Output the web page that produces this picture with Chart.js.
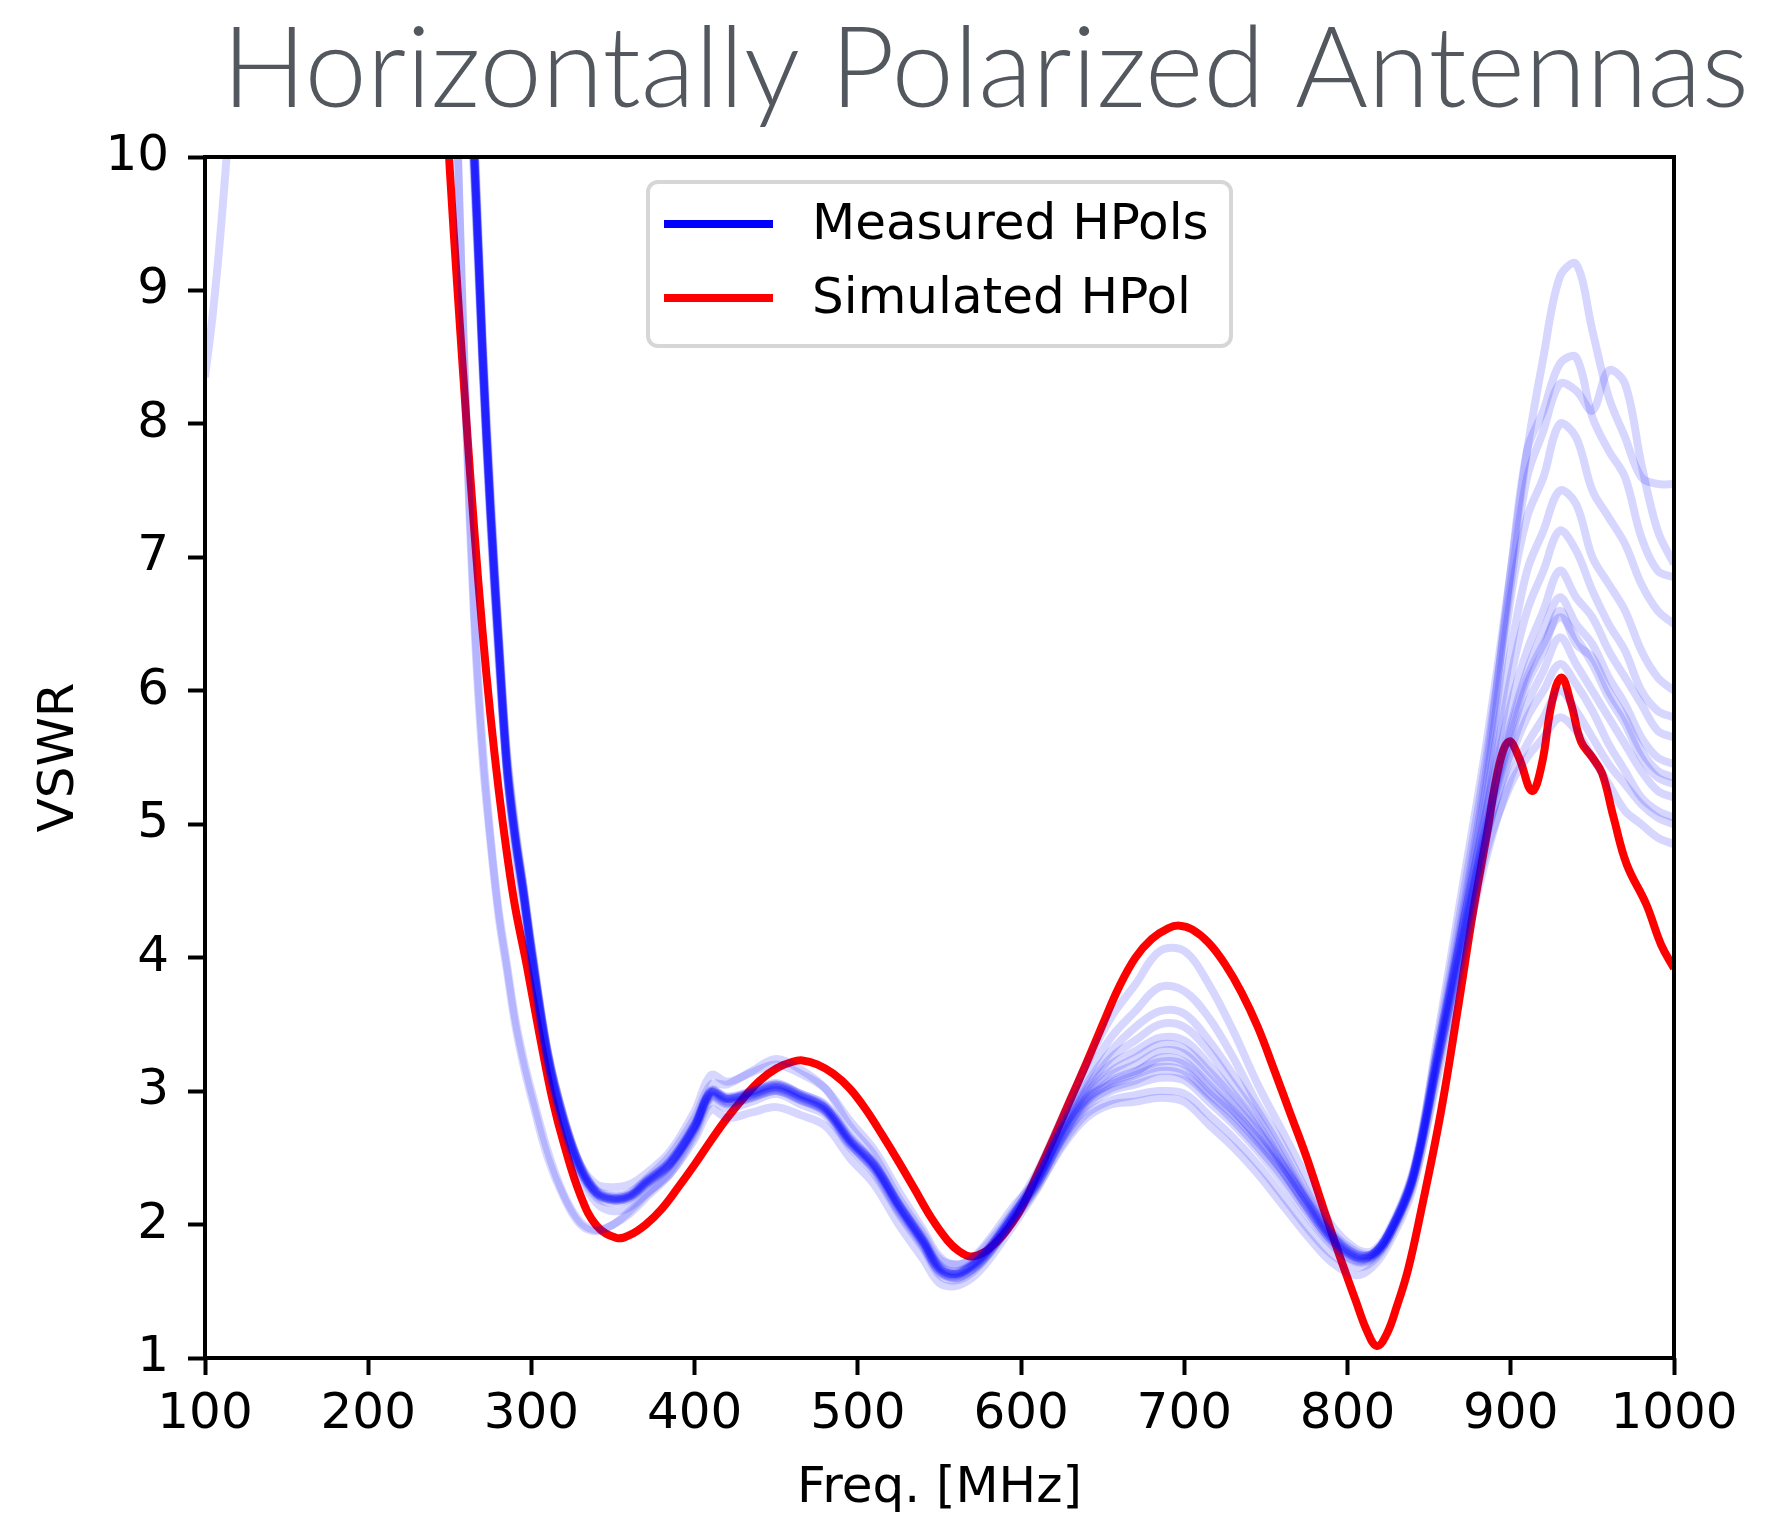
<!DOCTYPE html>
<html>
<head>
<meta charset="utf-8">
<title>Horizontally Polarized Antennas</title>
<script src="https://cdn.jsdelivr.net/npm/chart.js@4.4.1/dist/chart.umd.min.js"></script>
<style>
  html, body { margin: 0; padding: 0; background: #fff; }
  canvas { display: block; }
</style>
</head>
<body>
<canvas id="vswrChart" width="1766" height="1514"></canvas>
<script>
// ===== DATA =====
const titleText = 'Horizontally Polarized Antennas';
const xTitle = 'Freq. [MHz]';
const yTitle = 'VSWR';
const legendLabels = ['Measured HPols', 'Simulated HPol'];
const legendColors = ['rgb(0,0,255)', 'rgb(255,0,0)'];

// frequency grid shared by the measured runs (MHz)
const measFreq = [100, 105, 110, 115, 120, 240, 250, 255, 260, 265,
  270, 275, 280, 285, 290, 295, 300,
  310, 320, 330, 340, 350, 360, 370, 385, 400, 410, 420, 435, 450, 465, 480, 495, 510, 525, 540, 550, 560, 570, 580, 595,
  610, 625, 640, 655, 670, 685, 700, 715, 730, 745, 760, 775, 790, 805, 815, 825, 840,
  855, 870, 885,
  900, 910, 920, 930, 940, 950, 960, 970, 980, 990, 1000];

// measured VSWR runs (values above 10 are off the plot)
const hpol01 = [20,20,20,20,20, 16,13.5,12.3,11.1,10.0, 8.5,7.3,6.3,5.4,4.9,4.5,4.05,
  3.25,2.75,2.4,2.22,2.18,2.2,2.3,2.45,2.73,2.98,2.93,2.97,3.02,2.95,2.86,2.62,2.43,2.13,1.86,1.66,1.62,1.68,1.8,2.05,
  2.33,2.68,2.93,3.08,3.15,3.22,3.2,3.02,2.85,2.65,2.42,2.15,1.9,1.76,1.77,1.92,2.35,
  3.3,4.3,5.4, 6.9,7.8,8.1,8.45,8.5,8.05,7.8,7.6,7.15,6.9,6.85];
const hpol02 = [20,20,20,20,20, 16,13.6,12.4,11.2,10.1, 8.6,7.4,6.4,5.5,4.95,4.55,4.1,
  3.3,2.8,2.45,2.25,2.2,2.22,2.32,2.48,2.75,3.0,2.95,3.0,3.06,2.98,2.9,2.66,2.46,2.16,1.9,1.7,1.64,1.7,1.82,2.08,
  2.35,2.7,2.95,3.05,3.12,3.18,3.15,2.98,2.82,2.62,2.4,2.13,1.88,1.75,1.77,1.93,2.37,
  3.25,4.15,5.0, 5.75,6.15,6.45,6.7,6.5,6.35,6.1,5.9,5.65,5.5,5.45];
const hpol03 = [20,20,20,20,20, 16,13.4,12.2,11.0,9.9, 8.45,7.25,6.25,5.4,4.85,4.45,4.0,
  3.22,2.76,2.45,2.3,2.28,2.3,2.38,2.55,2.85,3.12,3.07,3.14,3.2,3.13,3.02,2.78,2.56,2.25,1.96,1.76,1.7,1.75,1.88,2.13,
  2.35,2.72,3.02,3.25,3.38,3.5,3.48,3.3,3.05,2.8,2.5,2.2,1.92,1.77,1.78,1.93,2.36,
  3.4,4.5,5.6, 6.9,7.8,8.5,9.1,9.2,8.7,8.2,7.9,7.6,7.55,7.55];
const hpol04 = [20,20,20,20,20, 16,13.3,12.1,10.9,9.8, 8.4,7.2,6.2,5.35,4.8,4.4,3.95,
  3.2,2.7,2.36,2.16,2.1,2.13,2.23,2.38,2.64,2.86,2.8,2.84,2.88,2.82,2.74,2.5,2.3,2.0,1.74,1.56,1.54,1.6,1.73,1.99,
  2.27,2.58,2.8,2.9,2.92,2.95,2.92,2.75,2.58,2.38,2.15,1.92,1.72,1.62,1.68,1.85,2.27,
  3.15,4.0,4.8, 5.3,5.5,5.65,5.8,5.7,5.5,5.3,5.1,5.0,4.9,4.85];
const hpol05 = [20,20,20,20,20, 15,12.5,10.0,8.0,6.5, 5.5,4.85,4.3,3.9,3.5,3.2,2.95,
  2.5,2.2,2.0,1.95,2.0,2.1,2.22,2.4,2.7,2.95,2.9,2.95,3.0,2.93,2.84,2.6,2.4,2.1,1.84,1.65,1.6,1.66,1.78,2.03,
  2.3,2.65,2.95,3.12,3.2,3.3,3.28,3.1,2.9,2.7,2.45,2.18,1.93,1.78,1.78,1.93,2.36,
  3.3,4.2,5.2, 6.3,6.9,7.2,7.5,7.4,7.0,6.8,6.6,6.3,6.1,6.0];
const hpol06 = [20,20,20,20,20, 16,13.5,12.3,11.1,10.0, 8.55,7.35,6.35,5.45,4.9,4.5,4.05,
  3.28,2.78,2.43,2.24,2.19,2.21,2.31,2.46,2.74,2.99,2.94,2.99,3.04,2.97,2.88,2.64,2.45,2.15,1.88,1.68,1.63,1.69,1.81,2.06,
  2.38,2.75,3.1,3.4,3.6,3.78,3.75,3.55,3.25,2.9,2.6,2.25,1.95,1.8,1.78,1.93,2.38,
  3.2,4.1,4.95, 5.65,6.05,6.3,6.6,6.35,6.25,6.0,5.8,5.55,5.4,5.35];
const hpol07 = [20,20,20,20,20, 16,13.7,12.5,11.3,10.2, 8.7,7.5,6.45,5.55,5.0,4.55,4.1,
  3.3,2.8,2.44,2.26,2.22,2.24,2.34,2.52,2.8,3.05,3.05,3.15,3.24,3.16,3.02,2.74,2.52,2.2,1.93,1.74,1.7,1.74,1.86,2.1,
  2.4,2.8,3.2,3.55,3.8,4.05,4.05,3.8,3.45,3.05,2.7,2.35,2.0,1.82,1.8,1.95,2.4,
  3.35,4.4,5.5, 6.8,7.6,7.95,8.3,8.25,8.1,8.4,8.3,7.7,7.2,6.95];
const hpol08 = [20,20,20,20,20, 16,13.4,12.2,11.0,9.9, 8.5,7.3,6.3,5.4,4.88,4.48,4.02,
  3.24,2.74,2.39,2.2,2.16,2.19,2.29,2.44,2.71,2.96,2.91,2.95,3.0,2.93,2.85,2.6,2.41,2.11,1.84,1.64,1.6,1.66,1.78,2.04,
  2.3,2.63,2.88,3.0,3.05,3.1,3.08,2.92,2.75,2.55,2.32,2.07,1.85,1.72,1.74,1.9,2.33,
  3.2,4.05,4.9, 5.55,5.9,6.15,6.4,6.2,6.0,5.8,5.6,5.4,5.25,5.2];
const hpol09 = [20,20,20,20,20, 15,12.4,10.0,8.1,6.6, 5.6,4.9,4.35,3.95,3.55,3.25,3.0,
  2.55,2.22,2.02,1.96,2.0,2.08,2.2,2.38,2.67,2.92,2.87,2.92,2.98,2.9,2.82,2.58,2.38,2.08,1.82,1.62,1.58,1.64,1.77,2.02,
  2.28,2.6,2.83,2.93,2.97,3.0,2.98,2.82,2.65,2.45,2.22,1.98,1.78,1.68,1.72,1.88,2.3,
  3.1,3.95,4.75, 5.35,5.6,5.8,6.0,5.85,5.65,5.45,5.3,5.15,5.05,5.0];
const hpol10 = [8.35,8.85,9.5,10.3,11.2, 16,13.5,12.3,11.1,10.0, 8.6,7.35,6.35,5.45,4.92,4.5,4.05,
  3.27,2.77,2.42,2.23,2.19,2.21,2.31,2.46,2.74,2.99,2.94,2.98,3.03,2.96,2.87,2.63,2.44,2.14,1.87,1.67,1.63,1.69,1.81,2.06,
  2.33,2.7,2.98,3.15,3.25,3.35,3.32,3.15,2.95,2.72,2.45,2.17,1.9,1.75,1.76,1.9,2.33,
  3.25,4.2,5.1, 5.9,6.3,6.6,6.9,6.7,6.55,6.3,6.1,5.9,5.7,5.65];
const hpol11 = [20,20,20,20,20, 16,13.55,12.35,11.15,10.05, 8.55,7.35,6.35,5.45,4.92,4.5,4.05,
  3.27,2.77,2.42,2.24,2.2,2.22,2.32,2.47,2.74,3.0,2.95,2.99,3.05,2.97,2.88,2.64,2.45,2.15,1.88,1.68,1.64,1.7,1.82,2.07,
  2.36,2.73,3.05,3.3,3.48,3.6,3.58,3.38,3.12,2.85,2.55,2.22,1.93,1.78,1.78,1.93,2.37,
  3.3,4.25,5.3, 6.7,7.3,7.6,8.0,7.9,7.5,7.3,7.1,6.8,6.6,6.5];
const hpol12 = [20,20,20,20,20, 16,13.45,12.25,11.05,9.95, 8.5,7.3,6.3,5.4,4.88,4.47,4.02,
  3.24,2.75,2.41,2.23,2.19,2.21,2.31,2.46,2.73,2.99,2.94,2.98,3.03,2.96,2.87,2.63,2.44,2.14,1.87,1.67,1.63,1.69,1.81,2.06,
  2.34,2.7,3.0,3.2,3.3,3.4,3.38,3.2,2.98,2.75,2.47,2.18,1.91,1.76,1.77,1.92,2.35,
  3.25,4.2,5.1, 6.1,6.6,6.9,7.2,7.05,6.75,6.5,6.3,6.0,5.85,5.8];
const hpol13 = [20,20,20,20,20, 16,13.5,12.3,11.1,10.0, 8.52,7.32,6.32,5.42,4.9,4.48,4.03,
  3.26,2.76,2.41,2.23,2.18,2.2,2.3,2.45,2.72,2.97,2.92,2.96,3.01,2.94,2.85,2.61,2.42,2.12,1.85,1.65,1.61,1.67,1.79,2.04,
  2.32,2.66,2.92,3.06,3.14,3.25,3.22,3.05,2.86,2.64,2.4,2.13,1.88,1.74,1.76,1.91,2.34,
  3.22,4.12,4.98, 5.7,6.1,6.35,6.55,6.4,6.2,5.95,5.75,5.5,5.35,5.3];
const hpol14 = [20,20,20,20,20, 16,13.6,12.4,11.2,10.1, 8.6,7.4,6.4,5.5,4.95,4.52,4.07,
  3.29,2.79,2.44,2.25,2.21,2.23,2.33,2.48,2.76,3.01,2.96,3.0,3.05,2.98,2.89,2.65,2.46,2.16,1.89,1.69,1.65,1.71,1.83,2.08,
  2.31,2.64,2.9,3.02,3.08,3.15,3.12,2.96,2.78,2.58,2.36,2.1,1.86,1.73,1.75,1.9,2.33,
  3.2,4.08,4.92, 5.5,5.8,6.0,6.2,6.05,5.85,5.6,5.4,5.2,5.1,5.05];
const measuredRuns = [hpol01, hpol02, hpol03, hpol04, hpol05, hpol06, hpol07,
  hpol08, hpol09, hpol10, hpol11, hpol12, hpol13, hpol14];

// simulated curve
const simFreq = [200, 230, 245, 250, 255, 260, 265, 270, 275, 280, 285, 290, 297, 305, 313, 320, 330, 340, 352, 360,
  370, 380, 390, 400, 410, 420, 430, 440, 450, 460, 466, 475, 485, 495, 505, 515, 525, 535, 545, 555,
  562, 569, 577, 585, 592, 600, 610, 620, 630, 640, 650, 660, 670, 680, 690, 697, 705, 715, 725, 735,
  745, 755, 765, 775, 785, 795, 805, 812, 818, 824, 830, 837, 845, 857, 868, 877, 885, 893, 899, 905,
  913, 919, 925, 931, 937, 943, 950, 956, 963, 971, 983, 992, 1000];
const simVswr = [30, 14, 11, 9.9, 8.95, 8.05, 7.2, 6.45, 5.8, 5.25, 4.78, 4.38, 3.95, 3.42, 2.93, 2.6, 2.22, 1.99, 1.90, 1.92,
  2.0, 2.12, 2.28, 2.45, 2.63, 2.8, 2.95, 3.08, 3.17, 3.22, 3.23, 3.2, 3.13, 3.02, 2.86, 2.67, 2.47, 2.26, 2.05, 1.88,
  1.8, 1.76, 1.79, 1.87, 1.97, 2.12, 2.38, 2.65, 2.93, 3.21, 3.5, 3.78, 4.0, 4.14, 4.22, 4.24, 4.21, 4.11, 3.95, 3.74,
  3.48, 3.16, 2.83, 2.5, 2.13, 1.77, 1.43, 1.2, 1.09, 1.18, 1.38, 1.66, 2.1, 2.83, 3.65, 4.35, 4.9, 5.45, 5.62, 5.5,
  5.25, 5.45, 5.9, 6.1, 5.9, 5.62, 5.5, 5.38, 5.05, 4.7, 4.4, 4.1, 3.92];

// ===== HELPERS =====
function toPoints(xs, ys) {
  return xs.map((x, i) => ({ x: x, y: ys[i] }));
}

const FONT = '"DejaVu Sans", sans-serif';

// box around the plot area, drawn above the curves like matplotlib spines
const framePlugin = {
  id: 'frame',
  afterDatasetsDraw(chart) {
    const { ctx, chartArea: a } = chart;
    ctx.save();
    ctx.strokeStyle = '#000';
    ctx.lineWidth = 4;
    ctx.strokeRect(a.left, a.top, a.right - a.left, a.bottom - a.top);
    ctx.restore();
  }
};

// legend box at upper centre of the plot
const legendPlugin = {
  id: 'boxLegend',
  afterDraw(chart) {
    const { ctx, chartArea: a } = chart;
    const boxW = 583, boxH = 164;
    const x0 = (a.left + a.right) / 2 - boxW / 2;
    const y0 = a.top + 25;
    ctx.save();
    ctx.beginPath();
    ctx.roundRect(x0, y0, boxW, boxH, 10);
    ctx.fillStyle = 'rgba(255,255,255,0.8)';
    ctx.fill();
    ctx.lineWidth = 4;
    ctx.strokeStyle = '#d6d6d6';
    ctx.stroke();
    legendLabels.forEach((label, i) => {
      const y = y0 + 42 + i * 74;
      ctx.strokeStyle = legendColors[i];
      ctx.lineWidth = 8;
      ctx.beginPath();
      ctx.moveTo(x0 + 16, y);
      ctx.lineTo(x0 + 125, y);
      ctx.stroke();
      ctx.fillStyle = '#000';
      ctx.font = '50px ' + FONT;
      ctx.textBaseline = 'middle';
      ctx.textAlign = 'left';
      ctx.fillText(label, x0 + 164, y + 2);
    });
    ctx.restore();
  }
};

// big grey figure title
const titlePlugin = {
  id: 'figTitle',
  afterDraw(chart) {
    const ctx = chart.ctx;
    ctx.save();
    ctx.font = '300 112px Lato, "Noto Sans", sans-serif';
    ctx.fillStyle = '#53575e';
    ctx.textBaseline = 'alphabetic';
    ctx.textAlign = 'left';
    const w = ctx.measureText(titleText).width;
    ctx.translate(222, 107);
    ctx.scale(1527 / w, 1);
    ctx.fillText(titleText, 0, 0);
    ctx.restore();
  }
};

// ===== BUILD CHART =====
const datasets = measuredRuns.map((run, i) => ({
  label: 'Measured HPol ' + (i + 1),
  data: toPoints(measFreq, run),
  borderColor: 'rgba(0,0,255,0.16)',
  borderWidth: 8,
  pointRadius: 0,
  tension: 0.35,
  capBezierPoints: false,
  clip: 0
}));
datasets.push({
  label: 'Simulated HPol',
  data: toPoints(simFreq, simVswr),
  borderColor: 'rgb(255,0,0)',
  borderWidth: 8,
  pointRadius: 0,
  tension: 0.4,
  capBezierPoints: false,
  clip: 0
});

const axisCommon = {
  type: 'linear',
  grid: {
    drawOnChartArea: false,
    drawTicks: true,
    tickLength: 17,
    tickWidth: 4,
    tickColor: '#000'
  },
  border: { display: false }
};

new Chart(document.getElementById('vswrChart').getContext('2d'), {
  type: 'line',
  data: { datasets: datasets },
  options: {
    responsive: false,
    devicePixelRatio: 1,
    animation: false,
    layout: { padding: { top: 157, right: 92, left: 0, bottom: 0 } },
    plugins: {
      legend: { display: false },
      tooltip: { enabled: false },
      title: { display: false }
    },
    scales: {
      x: Object.assign({}, axisCommon, {
        min: 100,
        max: 1000,
        ticks: {
          stepSize: 100,
          color: '#000',
          padding: 10,
          maxRotation: 0,
          font: { family: FONT, size: 50 },
          callback: v => String(v)
        },
        title: {
          display: true,
          text: xTitle,
          color: '#000',
          font: { family: FONT, size: 50, lineHeight: 1.0 },
          padding: { top: 0, bottom: 0 }
        },
        afterFit: scale => { scale.height = 156; }
      }),
      y: Object.assign({}, axisCommon, {
        min: 1,
        max: 10,
        ticks: {
          stepSize: 1,
          color: '#000',
          padding: 19,
          font: { family: FONT, size: 50 },
          callback: v => String(v)
        },
        title: {
          display: true,
          text: yTitle,
          color: '#000',
          font: { family: FONT, size: 50 },
          padding: { top: 30, bottom: 0 }
        },
        afterFit: scale => { scale.width = 205; }
      })
    }
  },
  plugins: [framePlugin, legendPlugin, titlePlugin]
});
</script>
</body>
</html>
